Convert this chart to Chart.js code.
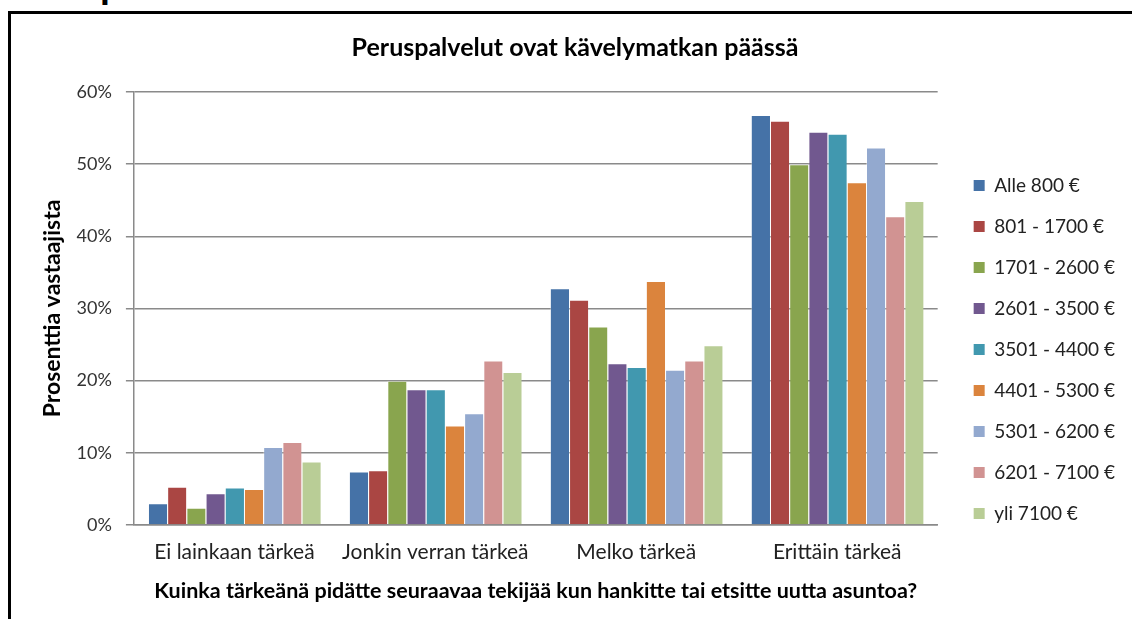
<!DOCTYPE html>
<html>
<head>
<meta charset="utf-8">
<script src="https://cdn.jsdelivr.net/npm/chart.js@4/dist/chart.umd.min.js"></script>
<style>
  body { margin: 0; background: #fff; overflow: hidden; }
  .frame {
    position: absolute; left: 8px; top: 11px; width: 1200px; height: 700px;
    border-left: 3px solid #000; border-top: 3px solid #000;
    box-shadow: -1px -1px 0 #999 inset;
  }
  .cut {
    position: absolute; left: 100px; top: -37px;
    font: bold 40px Lato, sans-serif; color: #000; line-height: 40px;
  }
  .wrap { position: absolute; left: 0; top: 0; width: 1132px; height: 619px; }
</style>
</head>
<body>
<div class="cut">p</div>
<div class="frame"></div>
<div class="wrap"><canvas id="myChart"></canvas></div>
<script>
"use strict";

// DATA
const categories = [
  "Ei lainkaan tärkeä",
  "Jonkin verran tärkeä",
  "Melko tärkeä",
  "Erittäin tärkeä",
];
const incomeGroups = [
  "Alle 800 €",
  "801 - 1700 €",
  "1701 - 2600 €",
  "2601 - 3500 €",
  "3501 - 4400 €",
  "4401 - 5300 €",
  "5301 - 6200 €",
  "6201 - 7100 €",
  "yli 7100 €",
];
// one array per income group, values in % for each category
const alle800 = [3.0, 7.4, 32.8, 56.8];
const g801_1700 = [5.3, 7.6, 31.2, 56.0];
const g1701_2600 = [2.4, 20.0, 27.5, 50.0];
const g2601_3500 = [4.4, 18.8, 22.4, 54.5];
const g3501_4400 = [5.2, 18.8, 21.9, 54.2];
const g4401_5300 = [5.0, 13.8, 33.8, 47.5];
const g5301_6200 = [10.8, 15.5, 21.5, 52.3];
const g6201_7100 = [11.5, 22.8, 22.8, 42.8];
const yli7100 = [8.8, 21.2, 24.9, 44.9];
const seriesValues = [
  alle800, g801_1700, g1701_2600, g2601_3500, g3501_4400,
  g4401_5300, g5301_6200, g6201_7100, yli7100,
];
const yTicks = [0, 10, 20, 30, 40, 50, 60];

const colors = [
  "#4572A7", "#AA4643", "#89A54E", "#71588F", "#4198AF",
  "#DB843D", "#93A9CF", "#D19392", "#B9CD96",
];

const FONT = "Lato, 'Open Sans', sans-serif";

// move the legend a bit away from the plot (excel leaves a wider gap)
const legendNudge = {
  id: "legendNudge",
  afterLayout(chart, args, opts) {
    const lg = chart.legend;
    lg.left += opts.x;
    lg.right += opts.x;
    lg.top += opts.y;
    lg.bottom += opts.y;
  },
};

//////////////////////////////
// CHART
const ctx = document.getElementById("myChart").getContext("2d");
const myChart = new Chart(ctx, {
  type: "bar",
  data: {
    labels: categories,
    datasets: incomeGroups.map((name, i) => ({
      label: name,
      data: seriesValues[i],
      backgroundColor: colors[i],
      borderColor: "rgba(255, 255, 255, 0.35)",
      borderWidth: { top: 1, left: 1, right: 0, bottom: 0 },
      categoryPercentage: 0.86,
      barPercentage: 1.0,
    })),
  },
  plugins: [legendNudge],
  options: {
    responsive: true,
    maintainAspectRatio: false,
    animation: false,
    layout: { padding: { left: 39, right: 21, top: 29, bottom: 15 } },
    plugins: {
      legendNudge: { x: 14, y: 33 },
      title: {
        display: true,
        text: "Peruspalvelut ovat kävelymatkan päässä",
        color: "#000",
        font: { family: FONT, size: 25, weight: "bold" },
        padding: { top: 4, bottom: 29 },
      },
      legend: {
        position: "right",
        labels: {
          color: "#222",
          font: { family: FONT, size: 19 },
          boxWidth: 11,
          boxHeight: 11,
          padding: 22,
          generateLabels: (chart) =>
            Chart.defaults.plugins.legend.labels
              .generateLabels(chart)
              .map((item) => ({ ...item, lineWidth: 0 })),
        },
      },
      tooltip: { enabled: false },
    },
    scales: {
      x: {
        grid: { display: false, drawTicks: false },
        border: { display: true, color: "#8a8a8a", width: 1.5 },
        ticks: {
          color: "#222",
          font: { family: FONT, size: 21 },
          padding: 15,
        },
        title: {
          display: true,
          text: "Kuinka tärkeänä pidätte seuraavaa tekijää kun hankitte tai etsitte uutta asuntoa?",
          color: "#000",
          font: { family: FONT, size: 21.5, weight: "bold" },
          padding: { top: -2, bottom: 0 },
        },
      },
      y: {
        min: 0,
        max: 60,
        afterBuildTicks: (axis) => {
          axis.ticks = yTicks.map((v) => ({ value: v }));
        },
        grid: {
          color: "#8a8a8a",
          lineWidth: 1.5,
          drawTicks: true,
          tickLength: 8,
        },
        border: { display: true, color: "#8a8a8a", width: 1.5 },
        ticks: {
          color: "#333",
          font: { family: FONT, size: 18 },
          padding: 14,
          callback: (v) => v + "%",
        },
        title: {
          display: true,
          text: "Prosenttia vastaajista",
          color: "#000",
          font: { family: FONT, size: 23, weight: "bold" },
          padding: { top: 0, bottom: -4 },
        },
      },
    },
  },
});
</script>
</body>
</html>
